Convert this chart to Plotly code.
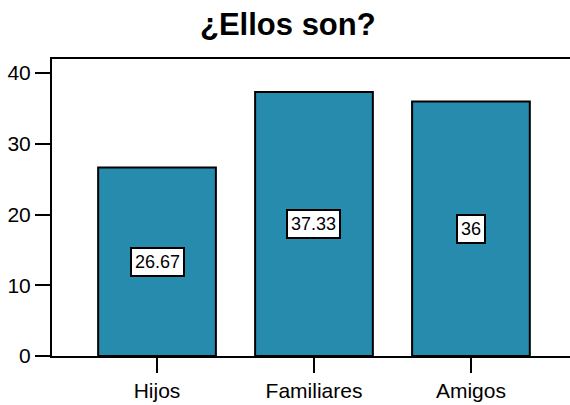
import plotly.graph_objs as go

categories = ['Hijos', 'Familiares', 'Amigos']
values = [26.67, 37.33, 36]
y_ticks = [0, 10, 20, 30, 40]

bar_color = '#268BAD'
font_family = 'Liberation Sans, Arial, sans-serif'

fig = go.Figure()
fig.add_trace(go.Bar(
    x=categories,
    y=values,
    width=0.75,
    marker=dict(color=bar_color, line=dict(color='black', width=2)),
    hoverinfo='none',
))

# etiquetas en el centro de cada barra
for cat, val in zip(categories, values):
    fig.add_annotation(
        x=cat, y=val / 2,
        text=f'{val:g}',
        showarrow=False,
        font=dict(family=font_family, size=18, color='black'),
        bgcolor='white',
        bordercolor='black',
        borderwidth=2,
        borderpad=3,
    )

fig.update_layout(
    width=570,
    height=405,
    showlegend=False,
    plot_bgcolor='white',
    paper_bgcolor='white',
    margin=dict(l=52, r=0, t=59, b=49),
    font=dict(family=font_family, size=21, color='black'),
    title=dict(
        text='<b>¿Ellos son?</b>',
        x=0.505, xref='container', xanchor='center',
        y=1 - 24 / 405, yref='container', yanchor='middle',
        font=dict(family=font_family, size=31, color='black'),
    ),
)
fig.update_xaxes(
    range=[-0.669, 2.631], automargin=False,
    showline=True, linecolor='black', linewidth=2, mirror=True,
    ticks='outside', ticklen=15, tickwidth=2, tickcolor='black',
    showgrid=False, zeroline=False,
)
fig.update_yaxes(
    range=[0, 42], automargin=False,
    tickmode='array', tickvals=y_ticks,
    showline=True, linecolor='black', linewidth=2,
    ticks='outside', ticklen=15, tickwidth=2, tickcolor='black',
    showgrid=False, zeroline=False,
)

# quitar el margen por defecto del body
fig.write_html('out.html', config={'displayModeBar': False},
               post_script="document.body.style.margin='0';")
